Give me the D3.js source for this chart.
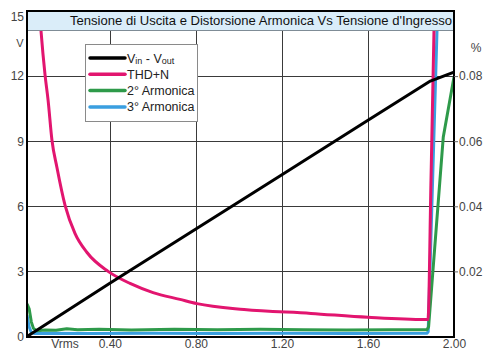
<!DOCTYPE html>
<html>
<head>
<meta charset="utf-8">
<script src="https://cdn.jsdelivr.net/npm/d3@7"></script>
<style>
  body { margin: 0; background: #fff; }
  text { font-family: "Liberation Sans", Arial, sans-serif; }
</style>
</head>
<body>
<div id="chart"></div>
<script>
// Vin - Vout (left axis, Volt)
var vinX  = [0.015, 0.40, 0.80, 1.20, 1.60, 1.89, 2.00]
var voutV = [0, 2.45, 4.95, 7.45, 9.97, 11.77, 12.18]

// THD+N (right axis, %)
var thdX   = [0.070, 0.080, 0.099, 0.113, 0.131, 0.154, 0.192, 0.238, 0.294, 0.392, 0.494, 0.601, 0.726, 0.805, 1.024, 1.335, 1.600, 1.865, 1.879, 1.893, 1.907, 1.910]
var thdPct = [0.103, 0.094, 0.0803, 0.0726, 0.0603, 0.052, 0.0403, 0.0317, 0.0258, 0.0200, 0.0163, 0.0135, 0.0114, 0.0101, 0.0083, 0.0071, 0.0059, 0.0052, 0.0052, 0.048, 0.094, 0.105]

// 2a armonica (%)
var h2X   = [0.015, 0.025, 0.035, 0.045, 0.060, 0.10, 0.15, 0.20, 0.25, 0.35, 0.50, 0.70, 0.90, 1.10, 1.30, 1.50, 1.70, 1.875, 1.882, 1.950, 2.00]
var h2Pct = [0.0100, 0.0085, 0.0045, 0.0025, 0.0018, 0.0020, 0.0019, 0.0024, 0.0021, 0.0022, 0.0020, 0.0022, 0.0021, 0.0022, 0.0021, 0.0020, 0.0021, 0.0021, 0.0030, 0.0612, 0.0797]

// 3a armonica (%)
var h3X   = [0.015, 0.025, 0.035, 0.050, 0.10, 0.30, 0.60, 0.90, 1.20, 1.50, 1.875, 1.880, 1.921, 1.924]
var h3Pct = [0.0065, 0.0030, 0.0012, 0.0009, 0.0010, 0.0009, 0.0010, 0.0009, 0.0010, 0.0009, 0.0010, 0.0015, 0.094, 0.105]

var xTicks = [0.40, 0.80, 1.20, 1.60, 2.00]
var vTicks = [0, 3, 6, 9, 12, 15]
var pctTicks = [0.02, 0.04, 0.06, 0.08]

var legendNames = ["Vin - Vout", "THD+N", "2° Armonica", "3° Armonica"]
var legendColors = ["#000000", "#e2156f", "#2e9a4a", "#3a9fe0"]

var width = 488, height = 348
var box = { x0: 27, x1: 454, y0: 11, y1: 337 }

let svg = d3.select("#chart").append("svg")
  .attr("width", width)
  .attr("height", height)

let x = d3.scaleLinear().domain([0.015, 2.0]).range([box.x0, box.x1])
let yV = d3.scaleLinear().domain([0, 15]).range([336.5, box.y0])
let yP = d3.scaleLinear().domain([0, 0.1]).range([336.5, box.y0])

svg.append("clipPath").attr("id", "plot")
  .append("rect").attr("x", box.x0).attr("y", box.y0)
  .attr("width", box.x1 - box.x0).attr("height", box.y1 - box.y0)

// grid
svg.append("g").selectAll("line")
  .data(vTicks.filter(d => d > 0 && d < 15))
  .enter().append("line")
  .attr("x1", box.x0).attr("x2", box.x1)
  .attr("y1", d => Math.round(yV(d)) + 0.5).attr("y2", d => Math.round(yV(d)) + 0.5)
  .attr("stroke", "#3a3a3a").attr("stroke-width", 1)

svg.append("g").selectAll("line")
  .data(xTicks.filter(d => d < 2))
  .enter().append("line")
  .attr("x1", d => Math.round(x(d)) + 0.5).attr("x2", d => Math.round(x(d)) + 0.5)
  .attr("y1", 30).attr("y2", box.y1)
  .attr("stroke", "#3a3a3a").attr("stroke-width", 1)

// series
let data = svg.append("g").attr("clip-path", "url(#plot)")

function addLine(xs, ys, scale, color, curve) {
  let pts = xs.map((d, i) => [d, ys[i]])
  data.append("path")
    .datum(pts)
    .attr("fill", "none")
    .attr("stroke", color)
    .attr("stroke-width", 3)
    .attr("stroke-linejoin", "round")
    .attr("d", d3.line().curve(curve || d3.curveLinear).x(d => x(d[0])).y(d => scale(d[1])))
}

addLine(h3X, h3Pct, yP, legendColors[3])
addLine(h2X, h2Pct, yP, legendColors[2])
addLine(thdX, thdPct, yP, legendColors[1], d3.curveMonotoneX)
addLine(vinX, voutV, yV, legendColors[0])

// title band
svg.append("rect")
  .attr("x", box.x0).attr("y", box.y0).attr("width", box.x1 - box.x0).attr("height", 19)
  .attr("fill", "#daedf9")
svg.append("line")
  .attr("x1", box.x0).attr("x2", box.x1).attr("y1", 30.5).attr("y2", 30.5)
  .attr("stroke", "#7f8c96")
svg.append("text")
  .attr("x", 70).attr("y", 25)
  .attr("font-size", 13)
  .attr("textLength", 382).attr("lengthAdjust", "spacingAndGlyphs")
  .attr("fill", "#111")
  .text("Tensione di Uscita e Distorsione Armonica Vs Tensione d'Ingresso")

// legend
let legend = svg.append("g")
legend.append("rect")
  .attr("x", 85.5).attr("y", 44.5).attr("width", 112).attr("height", 77)
  .attr("fill", "#fff").attr("stroke", "#8a8a8a")

legendNames.forEach(function(name, i) {
  let ly = 58 + i * 16.3
  legend.append("line")
    .attr("x1", 90).attr("x2", 125).attr("y1", ly).attr("y2", ly)
    .attr("stroke", legendColors[i]).attr("stroke-width", 3.5)
    .attr("stroke-linecap", "round")
  let t = legend.append("text")
    .attr("x", 127).attr("y", ly + 4.5)
    .attr("font-size", 12.5).attr("fill", "#222")
  if (i == 0) {
    t.append("tspan").text("V")
    t.append("tspan").attr("font-size", 9).attr("dy", 1).text("in")
    t.append("tspan").attr("dy", -1).text(" - V")
    t.append("tspan").attr("font-size", 9).attr("dy", 1).text("out")
  } else {
    t.text(name)
  }
})

// frame
svg.append("rect")
  .attr("x", box.x0).attr("y", box.y0).attr("width", box.x1 - box.x0).attr("height", box.y1 - box.y0)
  .attr("fill", "none").attr("stroke", "#000").attr("stroke-width", 2)

// axes
let leftAxis = svg.append("g")
  .attr("transform", "translate(" + (box.x0 - 2) + ",0)")
  .call(d3.axisLeft(yV).tickValues(vTicks).tickSize(0).tickPadding(1))
leftAxis.select(".domain").remove()
leftAxis.selectAll("text")
  .attr("font-size", 12).attr("fill", "#444")
  .attr("dy", d => d == 15 ? "0.8em" : "0.32em")
  .style("font-family", "Liberation Sans, Arial, sans-serif")

let rightAxis = svg.append("g")
  .attr("transform", "translate(" + box.x1 + ",0)")
  .call(d3.axisRight(yP).tickValues(pctTicks).tickSize(4).tickPadding(1).tickFormat(d3.format(".2f")))
rightAxis.select(".domain").remove()
rightAxis.selectAll("line").attr("stroke", "#666")
rightAxis.selectAll("text")
  .attr("font-size", 12).attr("fill", "#444")
  .style("font-family", "Liberation Sans, Arial, sans-serif")

let bottomAxis = svg.append("g")
  .attr("transform", "translate(0," + box.y1 + ")")
  .call(d3.axisBottom(x).tickValues(xTicks).tickSize(0).tickPadding(2).tickFormat(d3.format(".2f")))
bottomAxis.select(".domain").remove()
bottomAxis.selectAll("text")
  .attr("font-size", 12).attr("fill", "#444")
  .style("font-family", "Liberation Sans, Arial, sans-serif")

svg.append("text").attr("x", 20).attr("y", 47)
  .attr("text-anchor", "middle").attr("font-size", 11).attr("fill", "#444").text("V")
svg.append("text").attr("x", 476).attr("y", 52)
  .attr("text-anchor", "middle").attr("font-size", 12).attr("fill", "#444").text("%")
svg.append("text").attr("x", 65).attr("y", 348)
  .attr("text-anchor", "middle").attr("font-size", 12).attr("fill", "#444").text("Vrms")
</script>
</body>
</html>
